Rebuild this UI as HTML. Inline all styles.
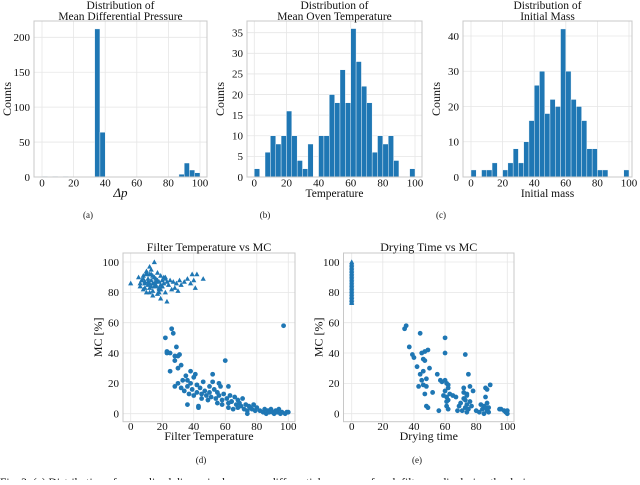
<!DOCTYPE html>
<html><head><meta charset="utf-8">
<style>
body{margin:0;background:#fff;width:640px;height:480px;overflow:hidden;font-family:"Liberation Serif",serif;}
svg text{font-family:"Liberation Serif",serif;fill:#111;}
</style></head>
<body>
<svg id="fig" width="640" height="480" viewBox="0 0 640 480" xmlns="http://www.w3.org/2000/svg"></svg>
<script>
// ---- Histogram data (30 bins over 0..100) ----
const binEdges = [0,3.33,6.67,10,13.33,16.67,20,23.33,26.67,30,33.33,36.67,40,43.33,46.67,50,53.33,56.67,60,63.33,66.67,70,73.33,76.67,80,83.33,86.67,90,93.33,96.67,100];
const countsPressure = [1,0,1,0,1,0,0,0,0,0,212,64,0,0,0,0,0,0,0,0,0,0,0,0,0,0,4,20,10,6];
const countsOven = [2,0,6,10,8,10,16,10,4,2,8,0,10,10,20,18,26,18,36,28,22,18,6,10,8,10,4,0,0,2];
const countsMass = [2,0,2,2,4,0,2,4,8,4,10,16,26,30,18,22,20,42,30,22,20,16,8,8,2,2,0,0,0,2];
const xTicks = [0,20,40,60,80,100];
const yTicksPressure = [0,50,100,150,200];
const yTicksOven = [0,5,10,15,20,25,30,35];
const yTicksMass = [0,10,20,30,40];
const yTicksMC = [0,20,40,60,80,100];
// ---- Scatter data: Filter Temperature vs MC ----
const ftTriX = [0,5,6,7,8,8,9,10,10,11,11,12,12,13,13,14,14,15,15,16,16,17,17,18,18,19,19,20,20,21,22,22,23,24,25,26,27,28,29,30,31,32,34,36,38,39,40,41,42,46,12,14,16,10,18,9,13,15,20,17,6,8,11,13,15,17,19,21,23,9,12,14,16,18,7,10,12,15,19,22];
const ftTriY = [86,90,84,88,91,82,87,93,80,85,89,92,83,88,95,81,86,90,100,84,89,79,93,87,82,91,76,88,84,86,80,89,74,85,88,82,87,83,86,81,88,85,87,89,86,92,88,83,92,89,97,78,85,94,80,86,92,90,84,88,86,89,87,84,86,88,85,90,87,83,80,91,87,83,88,92,86,84,82,90];
const ftCirX = [22,23,23,25,25,26,27,28,28,29,30,30,31,32,32,33,34,35,36,36,37,38,38,39,40,40,41,42,42,43,44,45,45,46,47,48,49,50,50,51,52,53,54,55,55,56,57,58,58,59,60,61,62,62,62,63,64,65,66,67,68,68,69,70,71,72,73,74,75,76,77,78,79,80,82,84,85,86,87,88,89,90,91,92,93,94,95,96,97,98,99,100,36,43,64,28,30,52,56,74];
const ftCirY = [50,41,40,40,28,56,53,35,38,44,30,20,39,32,17,22,15,25,22,18,13,28,20,16,24,12,26,19,14,4,17,13,10,21,15,12,9,18,14,11,26,16,10,14,7,12,18,9,6,13,35,10,18,7,4,12,8,3,11,6,4,9,7,5,10,3,6,2,5,4,3,6,2,4,2,1,3,0,2,1,3,1,0,2,1,3,0,1,58,0,1,1,6,5,8,18,38,21,20,0];
// ---- Scatter data: Drying Time vs MC ----
const dtTriX = [0,0,0,0,0,0,0,0,0,0,0,0,0,0,0,0,0,0,0,0,0,0,0,0,0,0,0,0];
const dtTriY = [73,74,76,77,78,79,80,81,82,83,84,85,86,87,88,89,90,91,92,93,94,95,96,97,98,99,100,75];
const dtCirX = [34,35,37,39,40,42,43,44,44,45,45,46,46,46,47,47,47,48,48,49,50,52,55,56,57,58,59,60,60,60,60,61,61,61,61,62,62,62,62,63,65,67,68,69,70,71,72,72,72,73,73,73,74,74,74,75,75,76,76,77,78,80,82,83,84,85,85,86,86,86,87,87,87,88,88,89,95,98,99,100,100,96,74,48,49];
const dtCirY = [56,58,44,39,37,31,18,53,26,40,22,36,28,19,41,35,13,23,18,42,30,14,26,2,22,21,12,50,40,22,15,8,20,11,5,17,3,19,9,13,12,11,2,5,7,2,10,17,14,4,9,39,6,13,1,26,3,18,8,5,15,2,1,6,3,5,0,4,11,17,7,2,16,1,4,19,3,2,1,0,2,3,12,5,4];

const svg = document.getElementById('fig');
const NS = 'http://www.w3.org/2000/svg';
function mk(tag, attrs, parent){const e=document.createElementNS(NS,tag);for(const k in attrs)e.setAttribute(k,attrs[k]);(parent||svg).appendChild(e);return e;}
function txt(s, attrs, parent){const e=mk('text',attrs,parent);e.textContent=s;return e;}
const BLUE='#1f77b4';

function frameAndGrid(g, L, R, T, B, sx, sy, xt, yt, tickOff){
  mk('rect',{x:L,y:T,width:R-L,height:B-T,fill:'#fff'},g);
  xt.forEach(v=>{const x=sx(v);const l=mk('line',{x1:x,x2:x,y1:T,y2:B,stroke:'#e6e6e6','stroke-width':0.8},g);
    
    
    const t=txt(String(v),{x:x,y:B+tickOff,'font-size':11,'text-anchor':'middle'},g);
    
    });
  yt.forEach(v=>{const y=sy(v);const l=mk('line',{x1:L,x2:R,y1:y,y2:y,stroke:'#e6e6e6','stroke-width':0.8},g);
    
    
    const t=txt(String(v),{x:L-4,y:y+3.8,'font-size':11,'text-anchor':'end'},g);
    
    });
}
function border(g,L,R,T,B){const r=mk('rect',{x:L,y:T,width:R-L,height:B-T,fill:'none',stroke:'#c8c8c8','stroke-width':1},g);
  
  }

function hist(name, L, R, T, B, x0, x100, yScale, counts, yt, title1, title2, xlabel, italic){
  const g=mk('g',{});
  
  
  const sx=v=>x0+(x100-x0)*v/100;
  const sy=v=>B-v*yScale;
  frameAndGrid(g,L,R,T,B,sx,sy,xTicks,yt,9.5);
  counts.forEach((c,i)=>{ if(c<=0) return;
    const xa=sx(binEdges[i]), xb=sx(binEdges[i+1]);
    const r=mk('rect',{x:xa,y:sy(c),width:xb-xa,height:Math.max(sy(0)-sy(c),1.2),fill:BLUE,stroke:'#fff','stroke-width':0.4},g);
    
    
  });
  border(g,L,R,T,B);
  const cx=(L+R)/2;
  const t1=txt(title1,{x:cx,y:9,'font-size':11.5,'text-anchor':'middle'},g);
  
  
  txt(title2,{x:cx,y:20,'font-size':11.5,'text-anchor':'middle'},g);
  const xl=txt(xlabel,{x:cx,y:197,'font-size':italic?13:11.5,'text-anchor':'middle','font-style':italic?'italic':'normal'},g);
  
  
  if(italic){xl.setAttribute('font-family','"DejaVu Sans",sans-serif');}
  const yl=txt('Counts',{x:0,y:0,'font-size':12,'text-anchor':'middle',transform:`translate(${L-23},${(T+B)/2}) rotate(-90)`},g);
  
  
}
hist('hist-pressure',34,207,21,177,42,200,139.7/200,countsPressure,yTicksPressure,'Distribution of','Mean Differential Pressure','Δp',true);
hist('hist-oven',247,422,21,177,254.3,415,144.3/35,countsOven,yTicksOven,'Distribution of','Mean Oven Temperature','Temperature',false);
hist('hist-mass',463,632,21,177,471,629,141/40,countsMass,yTicksMass,'Distribution of','Initial Mass','Initial mass',false);

function tri(g,x,y){const s=2.6;const p=mk('polygon',{points:`${x},${y-s} ${x-s},${y+s*0.8} ${x+s},${y+s*0.8}`,fill:BLUE},g);
  
  }
function dot(g,x,y){const c=mk('circle',{cx:x,cy:y,r:2.4,fill:BLUE},g);
  
  }

function scatter(name,L,R,x0,x100,triX,triY,cirX,cirY,title,xlabel){
  const T=253,B=421.7;
  const g=mk('g',{});
  
  
  const sx=v=>x0+(x100-x0)*v/100;
  const sy=v=>413.7-v*1.517;
  frameAndGrid(g,L,R,T,B,sx,sy,xTicks,yTicksMC,8.5);
  triX.forEach((v,i)=>tri(g,sx(v),sy(triY[i])));
  cirX.forEach((v,i)=>dot(g,sx(v),sy(cirY[i])));
  border(g,L,R,T,B);
  const cx=(L+R)/2;
  const t=txt(title,{x:cx,y:251,'font-size':12,'text-anchor':'middle'},g);
  
  
  const xl=txt(xlabel,{x:cx,y:440,'font-size':12,'text-anchor':'middle'},g);
  
  
  const yl=txt('MC [%]',{x:0,y:0,'font-size':12,'text-anchor':'middle',transform:`translate(${L-21},${(T+B)/2}) rotate(-90)`},g);
  
  
}
scatter('scatter-filter-temp',123,295,130.7,288.3,ftTriX,ftTriY,ftCirX,ftCirY,'Filter Temperature vs MC','Filter Temperature');
scatter('scatter-drying-time',343.5,514,351.7,507.3,dtTriX,dtTriY,dtCirX,dtCirY,'Drying Time vs MC','Drying time');

[['(a)',88,218],['(b)',265,218],['(c)',441,218],['(d)',201,463],['(e)',417,463]].forEach(a=>{
  const t=txt(a[0],{x:a[1],y:a[2],'font-size':9,'text-anchor':'middle'});
  
  
});
const cap=txt('Fig. 3: (a) Distribution of normalized dimensionless mean differential pressure of each filter media during the drying process.',{x:0,y:486,'font-size':11.5});


</script>
</body></html>
